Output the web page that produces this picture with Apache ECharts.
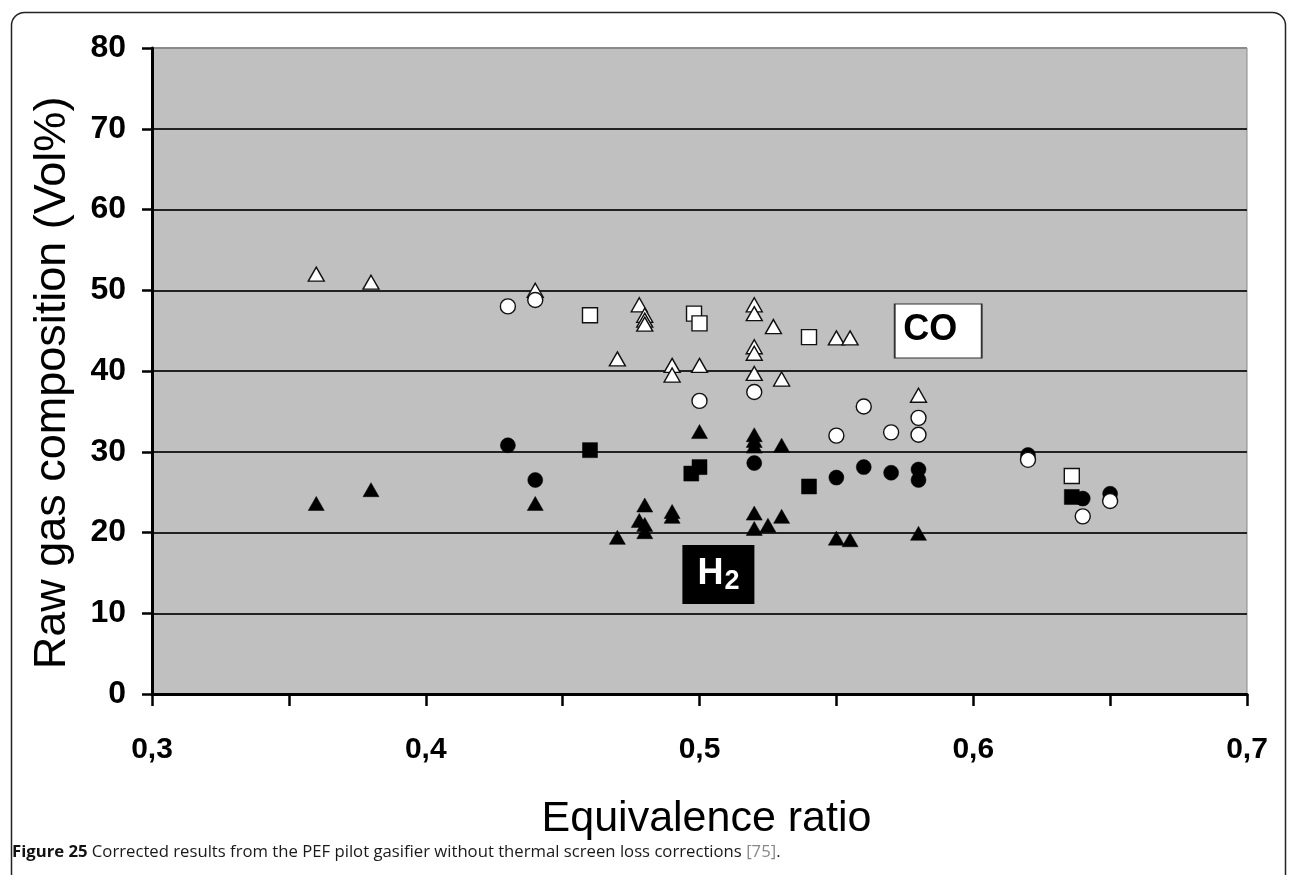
<!DOCTYPE html>
<html>
<head>
<meta charset="utf-8">
<script src="https://cdn.jsdelivr.net/npm/echarts@6/dist/echarts.min.js"></script>
<style>
html,body{margin:0;padding:0;background:#fff;}
#chart{width:1292px;height:875px;}
</style>
</head>
<body>
<div id="chart"></div>
<script>
// ---- data (Equivalence ratio, Vol%) ----
const coTriangles = [[0.36,52.0],[0.38,51.0],[0.44,50.0],[0.47,41.5],[0.478,48.2],[0.48,46.9],[0.48,46.3],[0.48,45.8],[0.49,40.7],[0.49,39.5],[0.50,40.7],[0.52,48.2],[0.52,47.1],[0.52,43.0],[0.52,42.2],[0.52,39.7],[0.527,45.5],[0.53,39.0],[0.55,44.1],[0.555,44.1],[0.58,37.0]];
const h2Triangles = [[0.36,23.6],[0.38,25.3],[0.44,23.6],[0.47,19.4],[0.48,23.4],[0.478,21.5],[0.48,21.0],[0.48,20.1],[0.49,22.6],[0.49,22.0],[0.50,32.5],[0.52,32.1],[0.52,31.4],[0.52,30.7],[0.53,30.8],[0.52,22.4],[0.52,20.5],[0.525,20.9],[0.53,22.0],[0.55,19.3],[0.555,19.1],[0.58,19.9]];
const coCircles = [[0.43,48.0],[0.44,48.8],[0.50,36.3],[0.52,37.4],[0.55,32.0],[0.56,35.6],[0.57,32.4],[0.58,34.2],[0.58,32.1],[0.62,29.0],[0.64,22.0],[0.65,23.9]];
const h2Circles = [[0.43,30.8],[0.44,26.5],[0.52,28.6],[0.55,26.8],[0.56,28.1],[0.57,27.4],[0.58,27.8],[0.58,26.5],[0.62,29.6],[0.64,24.2],[0.65,24.8]];
const coSquares = [[0.46,46.9],[0.498,47.1],[0.50,45.9],[0.54,44.2],[0.636,27.0]];
const h2Squares = [[0.46,30.2],[0.497,27.3],[0.50,28.1],[0.54,25.7],[0.636,24.4]];
const xTickLabels = {'0.3':'0,3','0.4':'0,4','0.5':'0,5','0.6':'0,6','0.7':'0,7'};
const yTickLabels = ['0','10','20','30','40','50','60','70','80'];
const coLabelAt = [0.5872, 44.95];
const h2LabelAt = [0.5069, 14.8];

const FONT = "'Liberation Sans', Arial, sans-serif";
const CAPFONT = "'Open Sans', 'Noto Sans', sans-serif";
const chart = echarts.init(document.getElementById('chart'), null, {renderer:'canvas'});

function openStyle(){ return {color:'#ffffff', borderColor:'#111', borderWidth:1.4, opacity:1}; }
function fillStyle(){ return {color:'#000000', borderColor:'#000', borderWidth:0.5, opacity:1}; }

const option = {
  backgroundColor:'#ffffff',
  animation:false,
  grid:{left:152, right:45, top:48, bottom:181, show:true, backgroundColor:'#c0c0c0', borderColor:'#8a8a8a', borderWidth:1},
  xAxis:{
    type:'value', min:0.3, max:0.7, interval:0.1,
    name:'Equivalence ratio', nameLocation:'middle', nameGap:104,
    nameTextStyle:{fontFamily:FONT, fontSize:43, color:'#000', fontWeight:'normal', padding:[0,0,0,14]},
    axisLine:{show:true, onZero:false, lineStyle:{color:'#000', width:3}},
    axisTick:{show:true, inside:false, length:12, lineStyle:{color:'#000', width:2.5}},
    minorTick:{show:true, splitNumber:2, length:12, lineStyle:{color:'#000', width:2.5}},
    axisLabel:{margin:41, fontFamily:FONT, fontSize:30, fontWeight:'bold', color:'#000',
      formatter:function(v){ return xTickLabels[v.toFixed(1)] || ''; }},
    splitLine:{show:false}
  },
  yAxis:{
    type:'value', min:0, max:80, interval:10,
    name:'Raw gas composition (Vol%)', nameLocation:'middle', nameGap:77,
    nameTextStyle:{fontFamily:FONT, fontSize:45, color:'#000', fontWeight:'normal', padding:[0,24,0,0]},
    axisLine:{show:true, onZero:false, lineStyle:{color:'#000', width:3}},
    axisTick:{show:true, inside:false, length:10, lineStyle:{color:'#000', width:2.5}},
    axisLabel:{margin:26, fontFamily:FONT, fontSize:32, fontWeight:'bold', color:'#000',
      formatter:function(v){ return yTickLabels[Math.round(v/10)]; }},
    splitLine:{show:true, lineStyle:{color:['#222','#222','#222','#222','#222','#222','#222','#222','#8a8a8a'], width:1.8}}
  },
  series:[
    {name:'CO triangles', type:'scatter', data:coTriangles, symbol:'triangle', symbolSize:[16,14], itemStyle:openStyle(), z:2,
      markPoint:{symbol:'rect', symbolSize:[87,54], silent:true,
        itemStyle:{color:'#fff', borderColor:'#333', borderWidth:1.5},
        label:{show:true, position:'inside', formatter:'CO', offset:[-8,-1], fontFamily:FONT, fontSize:36, fontWeight:'bold', color:'#000'},
        data:[{coord:coLabelAt}]}},
    {name:'H2 triangles', type:'scatter', data:h2Triangles, symbol:'triangle', symbolSize:[16,14], itemStyle:fillStyle(), z:2,
      markPoint:{symbol:'rect', symbolSize:[72,59], silent:true,
        itemStyle:{color:'#000', borderColor:'#000', borderWidth:0},
        label:{show:true, position:'inside', formatter:'{h|H}{s|2}', offset:[0,0],
          rich:{h:{fontFamily:FONT, fontSize:36, fontWeight:'bold', color:'#fff'},
                s:{fontFamily:FONT, fontSize:27, fontWeight:'bold', color:'#fff', verticalAlign:'bottom', padding:[14,0,0,1]}}},
        data:[{coord:h2LabelAt}]}},
    {name:'H2 squares', type:'scatter', data:h2Squares, symbol:'rect', symbolSize:15, itemStyle:fillStyle(), z:3},
    {name:'CO squares', type:'scatter', data:coSquares, symbol:'rect', symbolSize:15, itemStyle:openStyle(), z:3},
    {name:'H2 circles', type:'scatter', data:h2Circles, symbol:'circle', symbolSize:15, itemStyle:fillStyle(), z:4},
    {name:'CO circles', type:'scatter', data:coCircles, symbol:'circle', symbolSize:15, itemStyle:openStyle(), z:4}
  ],
  graphic:[
    {type:'rect', left:9, top:10, shape:{width:1274, height:900, r:13}, style:{fill:'none', stroke:'#222', lineWidth:1.5}, silent:true, z:-10},
    {type:'text', left:12, top:844, style:{
      text:'{b|Figure 25} Corrected results from the PEF pilot gasifier without thermal screen loss corrections {g|[75]}.',
      fontFamily:CAPFONT, fontSize:16.7, fill:'#1a1a1a',
      rich:{b:{fontFamily:CAPFONT, fontSize:16.7, fontWeight:'bold', fill:'#111'},
            g:{fontFamily:CAPFONT, fontSize:16.7, fill:'#888'}}}}
  ]
};
chart.setOption(option);
</script>
</body>
</html>
